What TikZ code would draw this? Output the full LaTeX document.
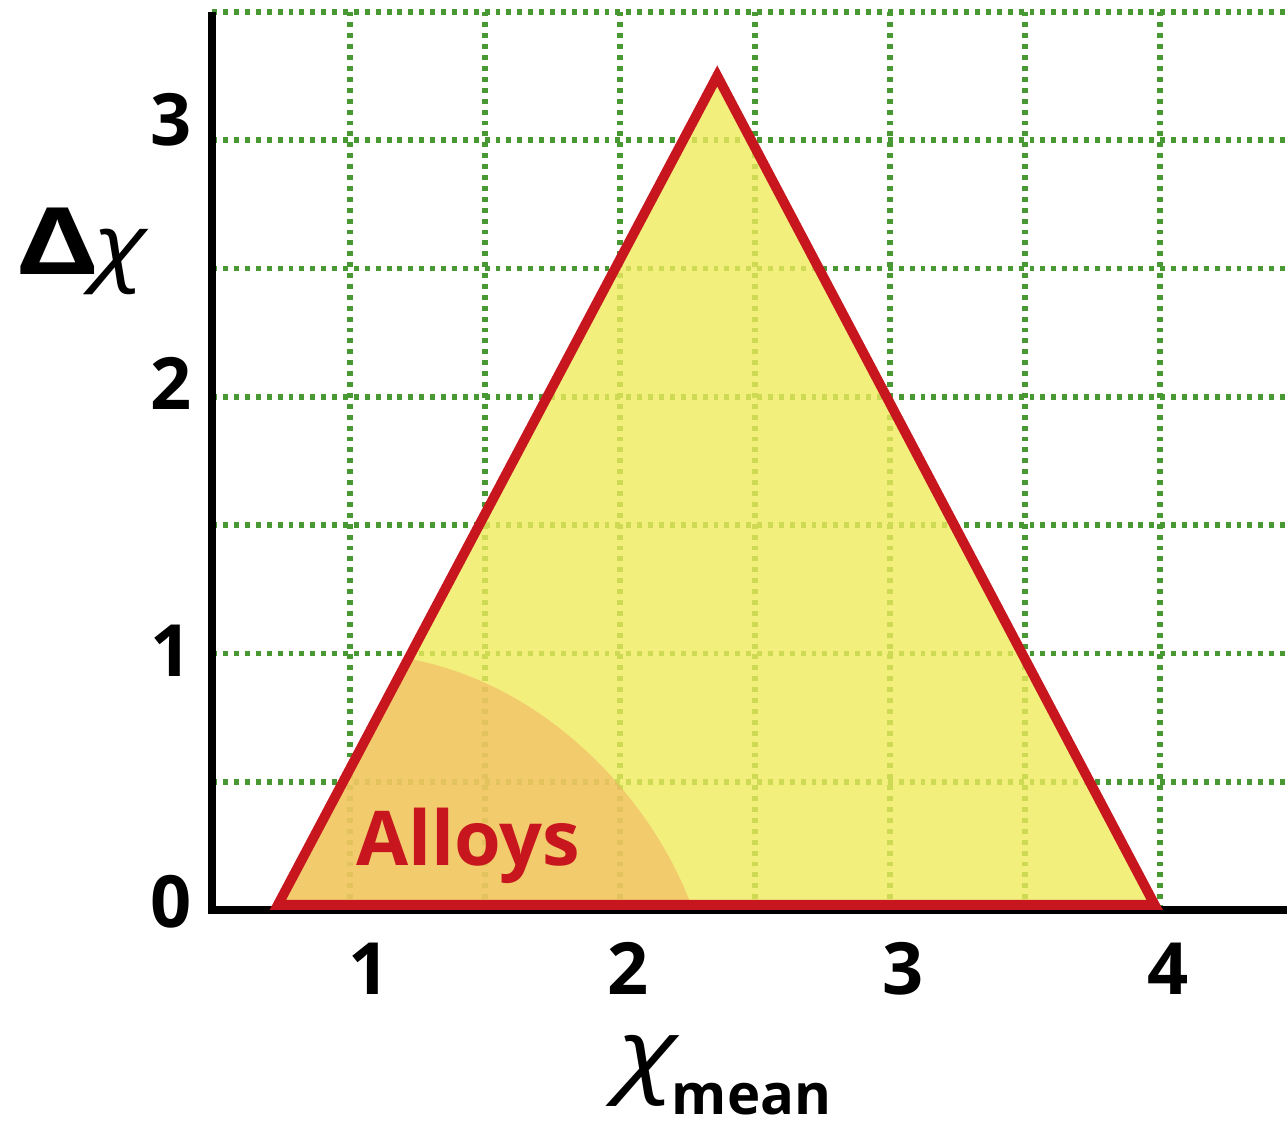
\documentclass[tikz,border=0pt]{standalone}
\usepackage{fontspec}
\setmainfont{Open Sans}
\usepackage{xcolor}
\usepackage{tikz}
\usetikzlibrary{positioning}

\definecolor{gridgreen}{RGB}{72,152,52}
\definecolor{alloyred}{RGB}{200,22,30}
\definecolor{fieldyellow}{RGB}{240,235,92}
\definecolor{alloyorange}{RGB}{242,180,100}

\begin{document}
\begin{tikzpicture}[x=2.7cm, y=2.566cm,
    gridline/.style={gridgreen, line width=1.6pt, dash pattern=on 1.4pt off 1.7pt},
    axisline/.style={black, line width=2.3pt},
    ticklabel/.style={font=\fontsize{20.5}{24}\selectfont\bfseries, inner sep=0pt}]
        \useasboundingbox (-0.296,-0.846) rectangle (4.47,3.546);

        % Grid
        \foreach \x in {1,1.5,...,4} {
          \draw[gridline] (\x,0) -- (\x,3.5);
        }
        \foreach \y in {0.5,1,...,3.5} {
          \draw[gridline] (0.49,\y) -- (4.47,\y);
        }

        % Triangle and alloy region
        \coordinate (left) at (0.733,0.02);
        \coordinate (apex) at (2.36,3.25);
        \coordinate (right) at (3.98,0.02);
        \fill[fieldyellow, fill opacity=0.8] (left) -- (apex) -- (right) -- cycle;
        \begin{scope}
          \clip (left) -- (apex) -- (right) -- cycle;
          \fill[alloyorange, fill opacity=0.6] (0.5,0) -- (0.5,1) -- (1.0,1) .. controls (1.65,1) and (2.12,0.45) .. (2.27,0) -- cycle;
        \end{scope}

        % Axes
        \draw[axisline] (0.49,3.5) -- (0.49,0) -- (4.47,0);
        \draw[alloyred, line width=2.8pt] (left) -- (apex) -- (right) -- cycle;

        % Labels
        \foreach \i/\xx in {1/1.07, 2/2.03, 3/3.05, 4/4.03} {
          \node[ticklabel, anchor=base] (xt\i) at (\xx,-0.331) {\i};
        }
        \foreach \i/\yy in {0/-0.07, 1/0.908, 2/1.95, 3/2.98} {
          \node[ticklabel, anchor=base east] (yt\i) at (0.415,\yy) {\i};
        }
        \node[anchor=base west, inner sep=0pt, alloyred, font=\fontsize{21.5}{24}\selectfont\bfseries] (alloys) at (1.02,0.175) {Alloys};
        \node[anchor=base west, inner sep=0pt, font=\fontsize{24}{28}\selectfont\bfseries] (ylab) at (-0.235,2.475) {\scalebox{1.45}[1.1]{Δ}\kern-1pt{\mdseries\itshape\scalebox{1.2}[1]{χ}}};
        \node[anchor=base west, inner sep=0pt, font=\bfseries] (xlab) at (1.99,-0.68) {{\fontsize{26}{30}\selectfont\mdseries\itshape\scalebox{1.25}[1]{χ}}\kern-1pt\raisebox{-0.3cm}{\fontsize{16}{18}\selectfont mean}};
      \end{tikzpicture}
\end{document}
